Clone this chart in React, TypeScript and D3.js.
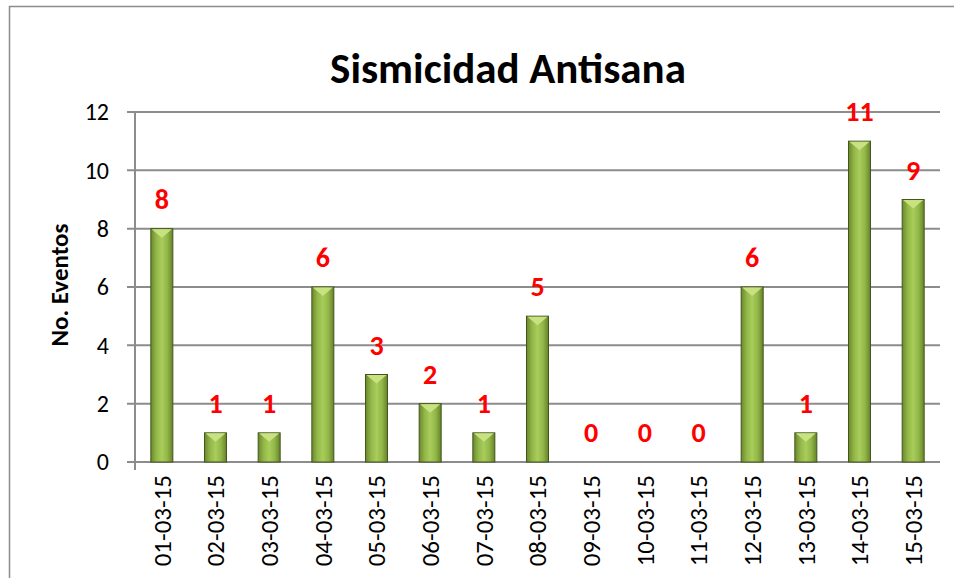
import React from 'react'
import * as d3 from 'd3'

const fechas = ['01-03-15', '02-03-15', '03-03-15', '04-03-15', '05-03-15', '06-03-15', '07-03-15', '08-03-15', '09-03-15', '10-03-15', '11-03-15', '12-03-15', '13-03-15', '14-03-15', '15-03-15']
const eventos = [8, 1, 1, 6, 3, 2, 1, 5, 0, 0, 0, 6, 1, 11, 9]
const yTicks = [0, 2, 4, 6, 8, 10, 12]

const W = 954
const H = 578
const font = 'Carlito, Calibri, "Open Sans", sans-serif'

const App = () => {
  const left = 135
  const right = 940
  const top = 112
  const bottom = 462

  const x = d3.scaleBand().domain(fechas).range([left, right]).paddingInner(0.59).paddingOuter(0.295)
  const y = d3.scaleLinear().domain([0, 12]).range([bottom, top])
  const bw = x.bandwidth()

  return (
    <svg width={W} height={H} style={{ position: 'absolute', left: 0, top: 0 }}>
      <defs>
        <linearGradient id='barGrad' x1='0' x2='1' y1='0' y2='0'>
          <stop offset='0' stopColor='#6a872c' />
          <stop offset='0.25' stopColor='#92b748' />
          <stop offset='0.5' stopColor='#a9cd5b' />
          <stop offset='0.75' stopColor='#92b748' />
          <stop offset='1' stopColor='#66822a' />
        </linearGradient>
      </defs>
      <rect x={0} y={0} width={W} height={H} fill='#fff' />
      <path d={`M9.5,${H} V6.5 H${W}`} fill='none' stroke='#8c8c8c' strokeWidth={1.5} />

      <text x={508} y={83} textAnchor='middle' fontFamily={font} fontWeight='bold' fontSize={43} fill='#000'>
        Sismicidad Antisana
      </text>

      {yTicks.map((t) => (
        <g key={t}>
          <line x1={left - 8} x2={right} y1={y(t)} y2={y(t)} stroke='#8c8c8c' strokeWidth={2} />
          <text x={109} y={y(t)} dy='0.35em' textAnchor='end' fontFamily={font} fontSize={24} fill='#000'>
            {t}
          </text>
        </g>
      ))}
      <line x1={left} x2={left} y1={top} y2={bottom + 8} stroke='#8c8c8c' strokeWidth={2} />

      <text transform='translate(68,285) rotate(-90)' textAnchor='middle' fontFamily={font} fontWeight='bold' fontSize={25} fill='#000'>
        No. Eventos
      </text>

      {fechas.map((f, i) => {
        const bx = x(f) as number
        const v = eventos[i]
        const by = y(v)
        const h = bottom - by
        return (
          <g key={f}>
            {v > 0 && (
              <g>
                <rect x={bx} y={by} width={bw} height={h} fill='url(#barGrad)' stroke='#44561e' strokeWidth={1} />
                <path d={`M${bx + 1},${by + 0.5} H${bx + bw - 1} L${bx + bw / 2},${by + Math.min(9, h)} Z`} fill='#c8e281' />
              </g>
            )}
            <text x={bx + bw / 2} y={by - 20} textAnchor='middle' fontFamily={font} fontWeight='bold' fontSize={28} fill='#ff0000'>
              {v}
            </text>
            <text transform={`translate(${bx + bw / 2},475) rotate(-90)`} dy='0.35em' textAnchor='end' fontFamily={font} fontSize={25} fill='#000'>
              {f}
            </text>
          </g>
        )
      })}
    </svg>
  )
}

export default App
